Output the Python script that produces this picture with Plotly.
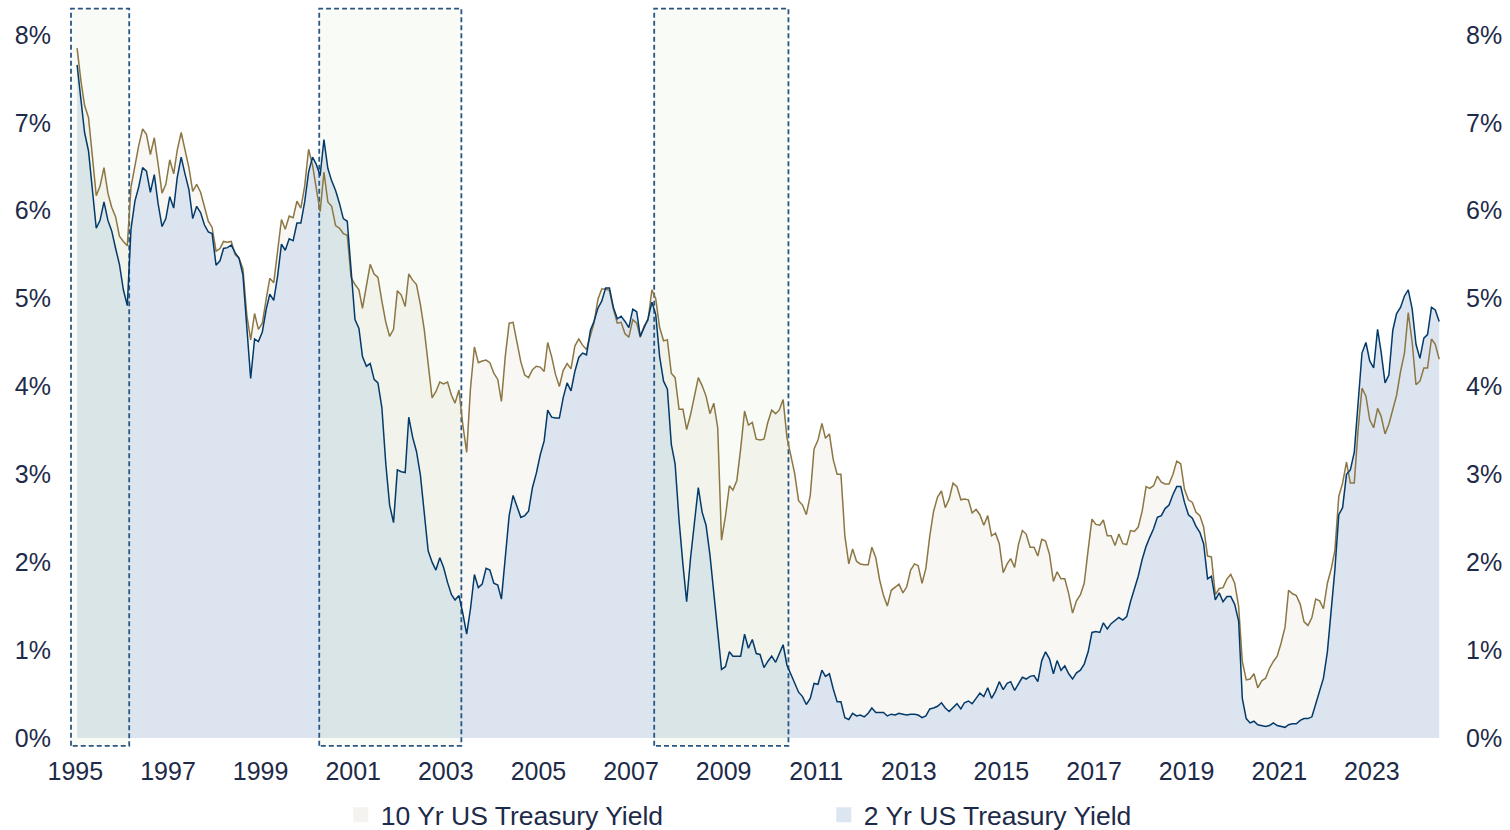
import pandas as pd
import plotly.graph_objects as go

# Monthly values, Jan 1995 .. Jun 2024 (percent)
y10 = [
    7.85, 7.47, 7.20, 7.06, 6.63, 6.17, 6.28, 6.49, 6.20, 6.04, 5.93, 5.71,  # 1995
    5.65, 5.60, 6.27, 6.51, 6.74, 6.93, 6.87, 6.64, 6.83, 6.53, 6.20, 6.30,  # 1996
    6.58, 6.42, 6.69, 6.89, 6.71, 6.49, 6.22, 6.30, 6.21, 6.03, 5.88, 5.81,  # 1997
    5.54, 5.57, 5.65, 5.64, 5.65, 5.50, 5.46, 5.34, 4.81, 4.53, 4.83, 4.65,  # 1998
    4.72, 5.00, 5.23, 5.18, 5.54, 5.90, 5.79, 5.94, 5.92, 6.11, 6.03, 6.28,  # 1999
    6.70, 6.52, 6.26, 5.99, 6.44, 6.10, 6.05, 5.83, 5.80, 5.74, 5.72, 5.24,  # 2000
    5.16, 5.10, 4.89, 5.14, 5.39, 5.28, 5.24, 4.97, 4.73, 4.57, 4.65, 5.09,  # 2001
    5.04, 4.91, 5.28, 5.21, 5.16, 4.93, 4.65, 4.26, 3.87, 3.94, 4.05, 4.03,  # 2002
    4.05, 3.90, 3.81, 3.96, 3.57, 3.25, 3.98, 4.45, 4.27, 4.29, 4.30, 4.27,  # 2003
    4.15, 4.08, 3.83, 4.35, 4.72, 4.73, 4.50, 4.28, 4.13, 4.10, 4.19, 4.23,  # 2004
    4.22, 4.17, 4.50, 4.34, 4.14, 4.00, 4.18, 4.26, 4.20, 4.46, 4.54, 4.47,  # 2005
    4.42, 4.57, 4.72, 4.99, 5.11, 5.11, 5.09, 4.88, 4.72, 4.73, 4.60, 4.56,  # 2006
    4.76, 4.72, 4.56, 4.69, 4.75, 5.10, 5.00, 4.67, 4.52, 4.53, 4.15, 4.10,  # 2007
    3.74, 3.74, 3.51, 3.68, 3.88, 4.10, 4.01, 3.89, 3.69, 3.81, 3.53, 2.25,  # 2008
    2.52, 2.87, 2.82, 2.93, 3.29, 3.72, 3.56, 3.59, 3.40, 3.39, 3.40, 3.59,  # 2009
    3.73, 3.69, 3.73, 3.85, 3.42, 3.20, 3.01, 2.70, 2.65, 2.54, 2.76, 3.29,  # 2010
    3.39, 3.58, 3.41, 3.46, 3.17, 3.00, 3.00, 2.30, 1.98, 2.15, 2.01, 1.98,  # 2011
    1.97, 1.97, 2.17, 2.05, 1.80, 1.62, 1.50, 1.68, 1.72, 1.75, 1.65, 1.72,  # 2012
    1.91, 1.98, 1.96, 1.76, 1.93, 2.30, 2.58, 2.74, 2.81, 2.62, 2.72, 2.90,  # 2013
    2.86, 2.71, 2.72, 2.71, 2.56, 2.60, 2.54, 2.42, 2.53, 2.30, 2.33, 2.21,  # 2014
    1.88, 1.98, 2.04, 1.94, 2.20, 2.36, 2.32, 2.17, 2.17, 2.07, 2.26, 2.24,  # 2015
    2.09, 1.78, 1.89, 1.81, 1.81, 1.64, 1.42, 1.56, 1.63, 1.76, 2.14, 2.49,  # 2016
    2.43, 2.42, 2.48, 2.30, 2.30, 2.19, 2.32, 2.21, 2.20, 2.36, 2.35, 2.40,  # 2017
    2.58, 2.86, 2.84, 2.87, 2.98, 2.91, 2.89, 2.89, 3.00, 3.15, 3.12, 2.83,  # 2018
    2.71, 2.68, 2.57, 2.53, 2.40, 2.07, 2.06, 1.63, 1.70, 1.71, 1.81, 1.86,  # 2019
    1.76, 1.50, 0.87, 0.66, 0.67, 0.73, 0.57, 0.65, 0.68, 0.79, 0.87, 0.93,  # 2020
    1.08, 1.26, 1.68, 1.64, 1.62, 1.52, 1.32, 1.28, 1.37, 1.58, 1.56, 1.47,  # 2021
    1.76, 1.93, 2.13, 2.75, 2.90, 3.14, 2.90, 2.90, 3.52, 3.98, 3.89, 3.62,  # 2022
    3.53, 3.75, 3.66, 3.46, 3.57, 3.75, 3.90, 4.17, 4.38, 4.84, 4.50, 4.02,  # 2023
    4.06, 4.21, 4.21, 4.54, 4.48, 4.31,                                      # 2024
]

y2 = [
    7.66, 7.25, 6.89, 6.68, 6.27, 5.80, 5.89, 6.10, 5.89, 5.77, 5.57, 5.39,  # 1995
    5.10, 4.92, 5.79, 6.11, 6.27, 6.49, 6.45, 6.21, 6.41, 6.08, 5.82, 5.91,  # 1996
    6.16, 6.03, 6.38, 6.61, 6.42, 6.24, 5.91, 6.05, 5.98, 5.84, 5.76, 5.74,  # 1997
    5.38, 5.43, 5.57, 5.58, 5.61, 5.52, 5.46, 5.27, 4.67, 4.09, 4.54, 4.51,  # 1998
    4.62, 4.88, 5.05, 4.98, 5.25, 5.62, 5.55, 5.68, 5.66, 5.86, 5.86, 6.10,  # 1999
    6.44, 6.61, 6.53, 6.40, 6.81, 6.48, 6.34, 6.23, 6.08, 5.91, 5.88, 5.35,  # 2000
    4.76, 4.66, 4.34, 4.23, 4.26, 4.08, 4.04, 3.76, 3.12, 2.65, 2.45, 3.05,  # 2001
    3.03, 3.02, 3.65, 3.42, 3.26, 2.99, 2.56, 2.13, 2.00, 1.91, 2.05, 1.94,  # 2002
    1.77, 1.63, 1.57, 1.62, 1.42, 1.18, 1.47, 1.86, 1.71, 1.75, 1.93, 1.91,  # 2003
    1.76, 1.74, 1.58, 2.07, 2.53, 2.76, 2.64, 2.51, 2.53, 2.58, 2.85, 3.01,  # 2004
    3.22, 3.38, 3.73, 3.65, 3.64, 3.64, 3.87, 4.04, 3.95, 4.17, 4.33, 4.38,  # 2005
    4.36, 4.64, 4.74, 4.89, 4.97, 5.12, 5.12, 4.90, 4.77, 4.80, 4.74, 4.67,  # 2006
    4.88, 4.85, 4.57, 4.67, 4.77, 4.96, 4.82, 4.34, 4.06, 3.97, 3.34, 3.12,  # 2007
    2.48, 1.97, 1.55, 2.05, 2.45, 2.85, 2.57, 2.42, 2.08, 1.61, 1.21, 0.78,  # 2008
    0.81, 0.98, 0.93, 0.93, 0.93, 1.18, 1.02, 1.12, 0.96, 0.95, 0.80, 0.87,  # 2009
    0.93, 0.86, 0.96, 1.06, 0.83, 0.72, 0.62, 0.52, 0.47, 0.38, 0.45, 0.62,  # 2010
    0.61, 0.77, 0.70, 0.73, 0.56, 0.41, 0.41, 0.23, 0.21, 0.28, 0.25, 0.26,  # 2011
    0.24, 0.28, 0.34, 0.29, 0.29, 0.29, 0.25, 0.27, 0.26, 0.28, 0.27, 0.26,  # 2012
    0.27, 0.27, 0.26, 0.23, 0.25, 0.33, 0.34, 0.36, 0.40, 0.34, 0.30, 0.34,  # 2013
    0.39, 0.33, 0.40, 0.42, 0.39, 0.45, 0.51, 0.47, 0.57, 0.45, 0.53, 0.64,  # 2014
    0.55, 0.62, 0.64, 0.54, 0.61, 0.69, 0.67, 0.70, 0.71, 0.64, 0.88, 0.98,  # 2015
    0.90, 0.73, 0.88, 0.77, 0.82, 0.73, 0.67, 0.74, 0.77, 0.84, 0.98, 1.20,  # 2016
    1.21, 1.20, 1.31, 1.24, 1.30, 1.34, 1.37, 1.34, 1.38, 1.55, 1.70, 1.84,  # 2017
    2.03, 2.18, 2.28, 2.38, 2.51, 2.53, 2.61, 2.65, 2.77, 2.86, 2.86, 2.68,  # 2018
    2.54, 2.50, 2.41, 2.34, 2.21, 1.81, 1.84, 1.57, 1.65, 1.55, 1.61, 1.61,  # 2019
    1.52, 1.33, 0.45, 0.22, 0.17, 0.19, 0.15, 0.14, 0.13, 0.14, 0.17, 0.14,  # 2020
    0.13, 0.12, 0.15, 0.16, 0.16, 0.20, 0.22, 0.22, 0.24, 0.39, 0.52, 0.68,  # 2021
    0.98, 1.44, 1.91, 2.54, 2.62, 3.00, 3.05, 3.25, 3.86, 4.38, 4.50, 4.29,  # 2022
    4.21, 4.65, 4.39, 4.04, 4.13, 4.64, 4.83, 4.90, 5.03, 5.10, 4.88, 4.48,  # 2023
    4.32, 4.55, 4.59, 4.90, 4.87, 4.74,                                      # 2024
]

dates = pd.date_range("1995-01-01", periods=len(y10), freq="MS") + pd.Timedelta(days=14)

band_start = ["1994-11-28", "2000-04-08", "2007-07-03"]
band_end = ["1996-03-01", "2003-05-04", "2010-05-27"]
band_low, band_high = -0.09, 8.30

tick_vals = [0, 1, 2, 3, 4, 5, 6, 7, 8]
tick_text = ["0%", "1%", "2%", "3%", "4%", "5%", "6%", "7%", "8%"]

C10_FILL = "#F8F7F4"
C2_FILL = "#DCE5EF"
C10_LINE = "#8C7744"
C2_LINE = "#033A69"
TXT = "#1D2A48"

fig = go.Figure()

# Area fills
fig.add_trace(go.Scatter(x=dates, y=y10, mode="none", fill="tozeroy",
                         fillcolor=C10_FILL, showlegend=False, hoverinfo="skip"))
fig.add_trace(go.Scatter(x=dates, y=y2, mode="none", fill="tozeroy",
                         fillcolor=C2_FILL, showlegend=False, hoverinfo="skip"))

# Dashed highlight boxes
for s, e in zip(band_start, band_end):
    fig.add_trace(go.Scatter(
        x=[s, s, e, e, s], y=[band_low, band_high, band_high, band_low, band_low],
        mode="lines", fill="toself", fillcolor="rgba(214,228,196,0.16)",
        line=dict(color="#2A5682", width=1.8, dash="5px,3px"),
        showlegend=False, hoverinfo="skip"))

# Lines
fig.add_trace(go.Scatter(x=dates, y=y10, mode="lines",
                         line=dict(color=C10_LINE, width=1.5), showlegend=False))
fig.add_trace(go.Scatter(x=dates, y=y2, mode="lines",
                         line=dict(color=C2_LINE, width=1.5), showlegend=False))

# Legend entries
fig.add_trace(go.Scatter(x=[None], y=[None], mode="markers", name="10 Yr US Treasury Yield",
                         marker=dict(symbol="square", size=15, color="#F4F3EF")))
fig.add_trace(go.Scatter(x=[None], y=[None], mode="markers", name="2 Yr US Treasury Yield",
                         marker=dict(symbol="square", size=15, color="#DCE6F1")))

# right axis dummy
fig.add_trace(go.Scatter(x=[dates[0]], y=[0], mode="markers", yaxis="y2",
                         marker=dict(opacity=0), showlegend=False, hoverinfo="skip"))

yaxis_common = dict(range=[-0.115, 8.33], tickvals=tick_vals, ticktext=tick_text,
                    showgrid=False, zeroline=False, showline=False, ticks="",
                    tickfont=dict(family="Liberation Sans, Arial, sans-serif", size=25, color=TXT),
                    fixedrange=True)

fig.update_layout(
    width=1510, height=830,
    margin=dict(l=70, r=67, t=6, b=82, autoexpand=False),
    paper_bgcolor="white", plot_bgcolor="white",
    font=dict(family="Liberation Sans, Arial, sans-serif", color=TXT),
    xaxis=dict(type="date", range=["1994-11-20", "2024-07-15"],
               tick0="1995-01-01", dtick="M24", tickformat="%Y",
               showgrid=False, zeroline=False, showline=False, ticks="",
               ticklabelstandoff=6,
               tickfont=dict(size=25, color=TXT)),
    yaxis=dict(**yaxis_common, side="left", ticklabelstandoff=18),
    yaxis2=dict(**yaxis_common, side="right", overlaying="y", ticklabelstandoff=22),
    legend=dict(orientation="h", x=0.549, xanchor="center",
                yref="container", y=0.018, yanchor="middle",
                font=dict(size=26.5, color=TXT), entrywidth=438, entrywidthmode="pixels",
                itemwidth=30, bgcolor="rgba(0,0,0,0)"),
    showlegend=True,
)

fig.write_html("out.html", config={"displayModeBar": False},
               post_script="document.body.style.margin='0';document.body.style.overflow='hidden';")
